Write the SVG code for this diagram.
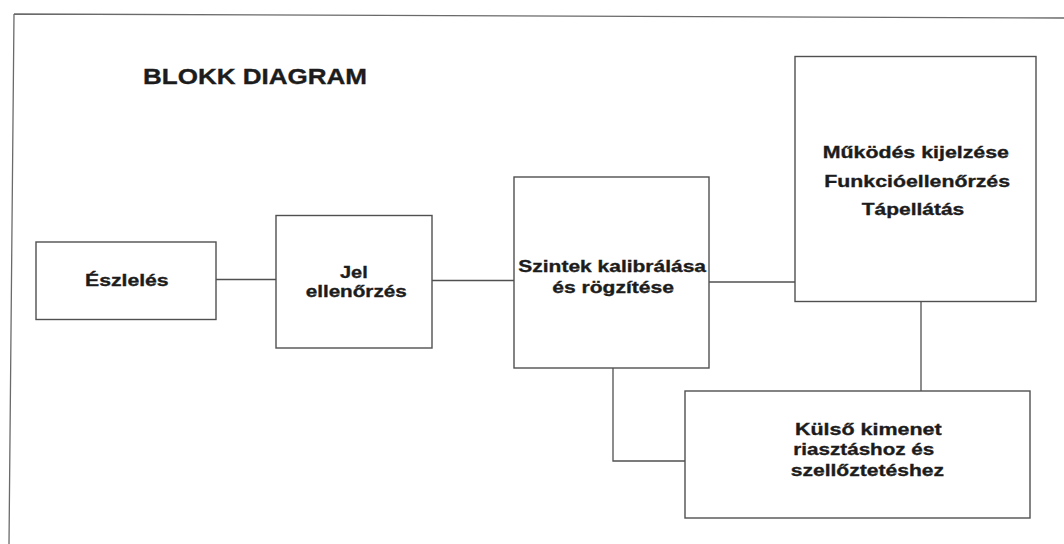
<svg xmlns="http://www.w3.org/2000/svg" width="1064" height="544" viewBox="0 0 1064 544">
<style>
.box{fill:#fff;stroke:#505050;stroke-width:1.4}
.wire{fill:none;stroke:#505050;stroke-width:1.3}
.frame{fill:none;stroke:#6a6a6a;stroke-width:1.3}
text{font-family:"Liberation Sans",Arial,sans-serif;font-weight:bold;fill:#1c1c1c;stroke:#1c1c1c;stroke-width:0.35;font-size:17px}
.title{font-size:22px}
</style>
<rect width="1064" height="544" fill="#fff"/>
<path class="frame" d="M14,14 L1064,18 M14,14 L9,544"/>
<text class="title" x="143" y="84" textLength="224" lengthAdjust="spacingAndGlyphs">BLOKK DIAGRAM</text>
<g id="connectors">
<line class="wire" x1="216" y1="279.5" x2="276" y2="279.5"/>
<line class="wire" x1="432" y1="280.5" x2="514" y2="280.5"/>
<line class="wire" x1="709" y1="282" x2="795" y2="282"/>
<line class="wire" x1="921" y1="301.5" x2="921" y2="391"/>
<polyline class="wire" points="613,368 613,461 685,461"/>
</g>
<g id="eszleles">
<rect class="box" x="36" y="242" width="180" height="77.5"/>
<text x="85" y="285.6" textLength="83.6" lengthAdjust="spacingAndGlyphs">Észlelés</text>
</g>
<g id="jel">
<rect class="box" x="276" y="215.5" width="156" height="132.5"/>
<text x="340" y="278.3" textLength="27.7" lengthAdjust="spacingAndGlyphs">Jel</text>
<text x="305.7" y="297.3" textLength="101" lengthAdjust="spacingAndGlyphs">ellenőrzés</text>
</g>
<g id="szintek">
<rect class="box" x="514" y="177" width="195" height="191"/>
<text x="518.3" y="272.3" textLength="187.7" lengthAdjust="spacingAndGlyphs">Szintek kalibrálása</text>
<text x="552.3" y="293.3" textLength="121.7" lengthAdjust="spacingAndGlyphs">és rögzítése</text>
</g>
<g id="mukodes">
<rect class="box" x="795" y="56.5" width="241" height="245"/>
<text x="822.7" y="158.3" textLength="186.3" lengthAdjust="spacingAndGlyphs">Működés kijelzése</text>
<text x="824.3" y="186.7" textLength="185.7" lengthAdjust="spacingAndGlyphs">Funkcióellenőrzés</text>
<text x="861.7" y="215" textLength="102.6" lengthAdjust="spacingAndGlyphs">Tápellátás</text>
</g>
<g id="kulso">
<rect class="box" x="685" y="391" width="345" height="127"/>
<text x="795" y="435" textLength="146.7" lengthAdjust="spacingAndGlyphs">Külső kimenet</text>
<text x="793.3" y="455" textLength="141" lengthAdjust="spacingAndGlyphs">riasztáshoz és</text>
<text x="790.7" y="475.7" textLength="153.3" lengthAdjust="spacingAndGlyphs">szellőztetéshez</text>
</g>
</svg>
